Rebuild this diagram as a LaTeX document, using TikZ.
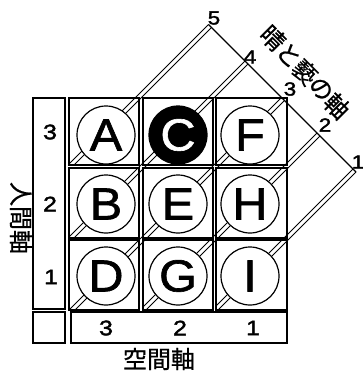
\documentclass[tikz,border=0pt]{standalone}
\usepackage{fontspec}
\setmainfont{Liberation Sans}
\newfontfamily\heavy[RawFeature={embolden=1.4;extend=1.08}]{Liberation Sans}
\newfontfamily\digits[RawFeature={embolden=2;extend=1.18}]{Liberation Sans}
\newfontfamily\jp[RawFeature={embolden=0.8}]{Noto Sans CJK JP}
\begin{document}
\begin{tikzpicture}[x=1pt,y=-1pt,
  cellbox/.style={draw,line width=1.3pt,inner sep=0pt,minimum width=70pt},
  axisbox/.style={draw,line width=1.2pt,inner sep=0pt},
  letter/.style={draw,circle,line width=1.2pt,fill=white,minimum size=58pt,inner sep=0pt,font=\heavy\fontsize{45}{45}\selectfont},
  dark/.style={letter,fill=black,text=white},
  num/.style={inner sep=0pt,font=\digits\fontsize{21}{21}\selectfont},
  topnum/.style={inner sep=0pt,font=\digits\fontsize{19}{19}\selectfont},
  stripline/.style={line width=1pt},
  jpchar/.style={inner sep=0pt,rotate=-45,font=\jp\fontsize{24}{24}\selectfont},
  jplabel/.style={inner sep=0pt,font=\jp\fontsize{24}{24}\selectfont}]
\useasboundingbox (0,0) rectangle (362,372);
% diagonal strips (double lines) and the outer edge
\draw[stripline] (69,164)--(208.5,24.5) (74,165)--(211.5,27.5);
\draw[stripline] (69,237)--(245,61) (74,238)--(248,64);
\draw[stripline] (69,310)--(281.5,97.5) (75,310)--(284.5,100.5);
\draw[stripline] (143,307)--(317,133) (146,310)--(320,136);
\draw[stripline] (216,306)--(353,169) (218,310)--(356,172);
\draw[line width=1.2pt] (208.5,24.5)--(356,172);
% cells
\node[cellbox,minimum height=67pt] (c11) at (104,131.5) {};
\node[cellbox,minimum height=67pt] (c21) at (178,131.5) {};
\node[cellbox,minimum height=67pt,minimum width=71pt] (c31) at (251.5,131.5) {};
\node[cellbox,minimum height=70pt] (c12) at (104,203) {};
\node[cellbox,minimum height=70pt] (c22) at (178,203) {};
\node[cellbox,minimum height=70pt,minimum width=71pt] (c32) at (251.5,203) {};
\node[cellbox,minimum height=70pt] (c13) at (104,275) {};
\node[cellbox,minimum height=70pt] (c23) at (178,275) {};
\node[cellbox,minimum height=70pt,minimum width=71pt] (c33) at (251.5,275) {};
% circles
\node[letter] (A) at (106,135) {A};
\node[dark]   (C) at (178,135) {C};
\node[letter] (F) at (250,135) {F};
\node[letter] (B) at (106,204) {B};
\node[letter] (E) at (178,204) {E};
\node[letter] (H) at (250,204) {H};
\node[letter] (D) at (106,276) {D};
\node[letter] (G) at (178,276) {G};
\node[letter] (I) at (250,276) {I};
% axis boxes
\node[axisbox,minimum width=32pt,minimum height=211pt] (left) at (49,203.5) {};
\node[axisbox,minimum width=32pt,minimum height=31pt] (corner) at (49,327.5) {};
\node[axisbox,minimum width=216pt,minimum height=31pt] (bottom) at (179,327.5) {};
\node[num] (l3) at (50,132) {3};
\node[num] (l2) at (50,204) {2};
\node[num] (l1) at (51,277) {1};
\node[num] (b3) at (106,328) {3};
\node[num] (b2) at (180,328) {2};
\node[num] (b1) at (253,328) {1};
% diagonal axis numbers
\node[topnum] (t5) at (214,18) {5};
\node[topnum] (t4) at (250,57) {4};
\node[topnum] (t3) at (290,89) {3};
\node[topnum] (t2) at (325,125) {2};
\node[topnum] (t1) at (358,162) {1};
% axis names
\node[jpchar] (h1) at (273,38) {晴};
\node[jpchar] (h2) at (289,55) {と};
\node[jpchar] (h3) at (305,72) {褻};
\node[jpchar] (h4) at (321,89) {の};
\node[jpchar] (h5) at (337,106) {軸};
\node[jplabel,rotate=-90] (ningen) at (21,218) {人間軸};
\node[jplabel] (kukan) at (159,359) {空間軸};
\end{tikzpicture}
\end{document}
